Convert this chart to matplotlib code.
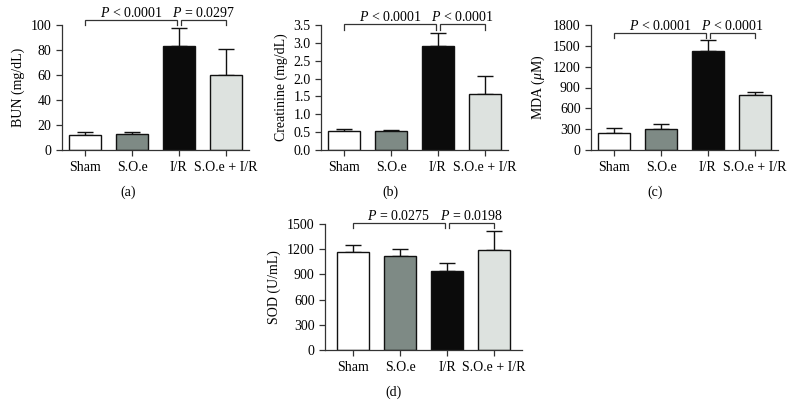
import numpy as np
import matplotlib
matplotlib.use("Agg")
from matplotlib import pyplot as plt

plt.rcParams['font.family'] = ['Liberation Serif', 'DejaVu Serif']
plt.rcParams['mathtext.fontset'] = 'custom'
plt.rcParams['mathtext.rm'] = 'Liberation Serif'
plt.rcParams['mathtext.it'] = 'Liberation Serif:italic'

groups = ["Sham", "S.O.e", "I/R", "S.O.e + I/R"]
bar_colors = ["#ffffff", "#7e8a85", "#0b0b0b", "#dde2df"]

bun_mean = [12, 13, 83, 60]
bun_err = [2.5, 1.2, 15, 21]

creat_mean = [0.53, 0.53, 2.92, 1.57]
creat_err = [0.07, 0.04, 0.35, 0.51]

mda_mean = [245, 305, 1420, 785]
mda_err = [70, 65, 165, 55]

sod_mean = [1172, 1122, 938, 1190]
sod_err = [75, 78, 92, 230]

W, H = 792, 417
FS = 10


def px_axes(fig, left, right, top, bottom):
	return fig.add_axes([left / W, (H - bottom) / H, (right - left) / W, (bottom - top) / H])


def bracket(ax, x0, x1, y, drop, text):
	ax.plot([x0, x0, x1, x1], [y - drop, y, y, y - drop], color="#333333", lw=0.9,
		clip_on=False, solid_joinstyle="miter")
	ax.text((x0 + x1) / 2, y, text, ha="center", va="bottom", fontsize=FS)


def panel(ax, means, errs, ylabel, yticks, ylim, xlim, brackets):
	x = np.arange(len(groups))
	ax.bar(x, means, width=0.68, color=bar_colors, edgecolor="#111111", linewidth=1.0, zorder=2)
	ax.errorbar(x, means, yerr=[np.zeros(len(means)), errs], fmt="none", ecolor="#111111",
		elinewidth=1.0, capsize=5.5, capthick=1.0, zorder=1)
	ax.set_xlim(*xlim)
	ax.set_ylim(*ylim)
	ax.set_yticks(yticks)
	ax.set_xticks(x)
	ax.set_xticklabels(groups, fontsize=FS)
	ax.tick_params(axis="y", labelsize=FS, length=4, width=0.9, color="#333333")
	ax.tick_params(axis="x", length=4, width=0.9, color="#333333", pad=4)
	ax.set_ylabel(ylabel, fontsize=FS)
	for s in ["top", "right"]:
		ax.spines[s].set_visible(False)
	for s in ["left", "bottom"]:
		ax.spines[s].set_linewidth(0.9)
		ax.spines[s].set_color("#333333")
	for (x0, x1, y, drop, text) in brackets:
		bracket(ax, x0, x1, y, drop, text)


fig = plt.figure(figsize=(W / 100, H / 100), dpi=100)

ax_a = px_axes(fig, 62, 249, 25, 150)
panel(ax_a, bun_mean, bun_err, "BUN (mg/dL)", [0, 20, 40, 60, 80, 100], (0, 100), (-0.5, 3.5),
	[(0, 1.95, 104, 4, r"$P$ < 0.0001"), (2.05, 3, 104, 4, r"$P$ = 0.0297")])

ax_b = px_axes(fig, 321, 508, 25, 150)
panel(ax_b, creat_mean, creat_err, "Creatinine (mg/dL)", np.arange(0, 3.51, 0.5), (0, 3.5), (-0.5, 3.5),
	[(0, 1.95, 3.52, 0.15, r"$P$ < 0.0001"), (2.05, 3, 3.52, 0.15, r"$P$ < 0.0001")])
ax_b.set_yticklabels([f"{v:.1f}" for v in np.arange(0, 3.51, 0.5)])

ax_c = px_axes(fig, 591, 778, 25, 150)
panel(ax_c, mda_mean, mda_err, r"MDA ($\mathit{\mu}$M)", [0, 300, 600, 900, 1200, 1500, 1800], (0, 1800), (-0.5, 3.5),
	[(0, 1.95, 1690, 70, r"$P$ < 0.0001"), (2.05, 3, 1690, 70, r"$P$ < 0.0001")])

ax_d = px_axes(fig, 325, 522, 224, 350)
panel(ax_d, sod_mean, sod_err, "SOD (U/mL)", [0, 300, 600, 900, 1200, 1500], (0, 1500), (-0.6, 3.6),
	[(0, 1.95, 1510, 60, r"$P$ = 0.0275"), (2.05, 3, 1510, 60, r"$P$ = 0.0198")])

for lbl, xc, yc in [("(a)", 128, 192), ("(b)", 390, 192), ("(c)", 655, 192), ("(d)", 393, 392)]:
	fig.text(xc / W, (H - yc) / H, lbl, ha="center", va="center", fontsize=FS)

fig.savefig("out.png", dpi=100)
